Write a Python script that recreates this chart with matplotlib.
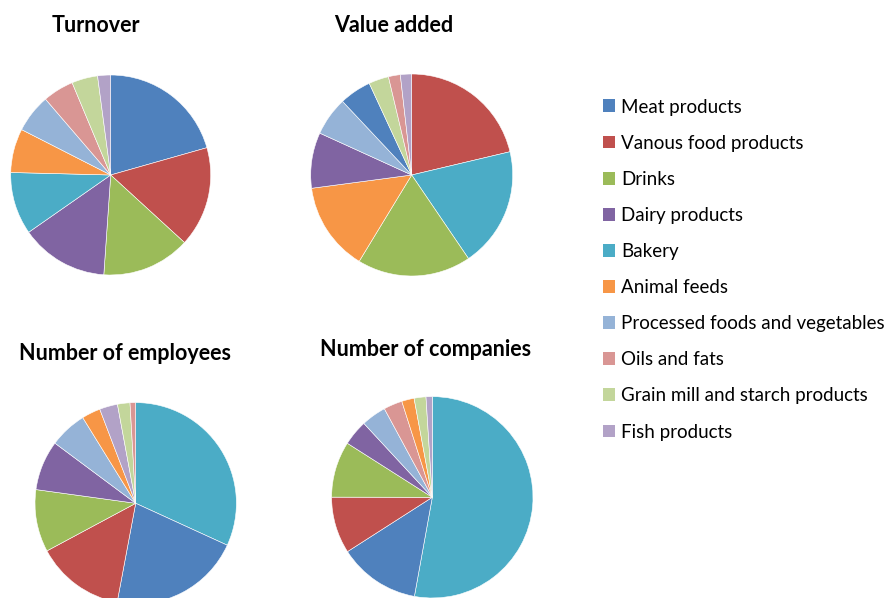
import matplotlib
matplotlib.use("Agg")
import matplotlib.pyplot as plt
from matplotlib.patches import Patch

plt.rcParams["font.family"] = ["Lato", "DejaVu Sans"]

categories = ["Meat products", "Vanous food products", "Drinks", "Dairy products",
              "Bakery", "Animal feeds", "Processed foods and vegetables",
              "Oils and fats", "Grain mill and starch products", "Fish products"]
colors = ["#4F81BD", "#C0504D", "#9BBB59", "#8064A2", "#4BACC6",
          "#F79646", "#95B3D7", "#D99694", "#C3D69B", "#B2A2C7"]

# shares (%) in legend order
turnover = [20.6, 16.2, 14.3, 14.2, 10.1, 7.1, 6.2, 5.0, 4.2, 2.1]
value_added = [5.1, 21.3, 18.2, 8.9, 19.2, 14.2, 6.2, 1.9, 3.2, 1.8]
employees = [21.1, 14.2, 10.0, 8.0, 31.8, 3.0, 6.0, 0.9, 2.0, 2.9]
companies = [13.1, 9.1, 9.0, 4.1, 52.9, 2.0, 4.0, 3.0, 1.9, 1.0]

W, H = 890, 598
fig = plt.figure(figsize=(W / 100, H / 100), dpi=100)

# (title, values, centre x, centre y, radius, title x, title y) in pixels
pies = [
    ("Turnover", turnover, 110.7, 175, 100, 96, 25),
    ("Value added", value_added, 411.7, 175, 101, 394, 25),
    ("Number of employees", employees, 135.7, 503.3, 100.7, 125, 353),
    ("Number of companies", companies, 432.3, 497.3, 100.7, 426, 350),
]

for title, vals, cx, cy, r, tx, ty in pies:
    ax = fig.add_axes([(cx - r) / W, (H - cy - r) / H, 2 * r / W, 2 * r / H])
    # each pie is drawn largest slice first, clockwise from 12 o'clock
    order = sorted(range(len(vals)), key=lambda i: -vals[i])
    ax.pie([vals[i] for i in order], colors=[colors[i] for i in order],
           startangle=90, counterclock=False, radius=1,
           wedgeprops=dict(edgecolor="white", linewidth=0.4))
    ax.set_xlim(-1, 1)
    ax.set_ylim(-1, 1)
    ax.set_aspect("auto")
    ax.axis("off")
    fig.text(tx / W, 1 - ty / H, title, ha="center", va="center",
             fontsize=15.5, fontweight="bold", color="black")

handles = [Patch(facecolor=c, edgecolor="none") for c in colors]
fig.legend(handles, categories, loc="upper left",
           bbox_to_anchor=(595 / W, 1 - 91 / H), frameon=False,
           fontsize=13.5, labelspacing=1.02, handlelength=0.68,
           handleheight=0.68, handletextpad=0.3, borderaxespad=0)

fig.savefig("out.png", dpi=100)
